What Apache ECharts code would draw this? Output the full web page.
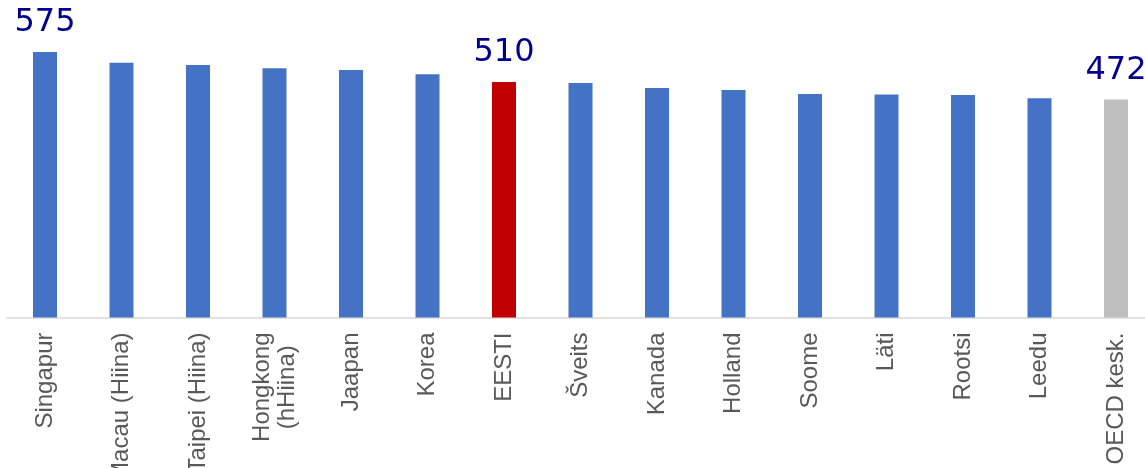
<!DOCTYPE html>
<html>
<head>
<meta charset="utf-8">
<style>
  html, body { margin: 0; padding: 0; background: #ffffff; }
  #chart { width: 1145px; height: 468px; }
</style>
<script src="https://cdn.jsdelivr.net/npm/echarts@6/dist/echarts.min.js"></script>
</head>
<body>
<div id="chart"></div>
<script>
const categories = ['Singapur', 'Macau (Hiina)', 'Taipei (Hiina)', 'Hongkong\n(hHiina)', 'Jaapan', 'Korea', 'EESTI', 'Šveits', 'Kanada', 'Holland', 'Soome', 'Läti', 'Rootsi', 'Leedu', 'OECD kesk.'];
const scores = [575, 552, 547, 540, 536, 527, 510, 508, 497, 493, 484, 483, 482, 475, 472];
const labelledCategories = ['Singapur', 'EESTI', 'OECD kesk.'];
const focusCategory = 'EESTI';
const averageCategory = 'OECD kesk.';

const BLUE = '#4472C4', RED = '#C00000', GREY = '#BFBFBF';

const seriesData = scores.map((v, i) => {
  const c = categories[i];
  return {
    value: v,
    itemStyle: { color: c === focusCategory ? RED : (c === averageCategory ? GREY : BLUE) },
    label: { show: labelledCategories.includes(c) }
  };
});

const chart = echarts.init(document.getElementById('chart'), null, { renderer: 'canvas' });
chart.setOption({
  animation: false,
  backgroundColor: '#ffffff',
  grid: { left: 6.75, width: 1147.5, top: 40.5, bottom: 150.5, containLabel: false, outerBoundsMode: 'none' },
  xAxis: {
    type: 'category',
    data: categories,
    axisLine: { show: true, lineStyle: { color: '#D9D9D9', width: 1.5 } },
    axisTick: { show: false },
    axisLabel: {
      rotate: 90,
      margin: 15,
      interval: 0,
      hideOverlap: false,
      formatter: function (v) {
        return v.split('\n').map(s => '{c|' + s + '}').join('\n');
      },
      rich: {
        c: { fontFamily: 'Liberation Sans', fontSize: 24, color: '#595959', align: 'center', lineHeight: 25 }
      }
    }
  },
  yAxis: {
    type: 'value', min: 0, max: 600, show: false,
    splitLine: { show: false }
  },
  series: [{
    type: 'bar',
    data: seriesData,
    barWidth: 24,
    label: {
      position: 'top',
      distance: 13,
      fontFamily: 'DejaVu Sans',
      fontSize: 32,
      color: '#000090'
    }
  }]
});
</script>
</body>
</html>
